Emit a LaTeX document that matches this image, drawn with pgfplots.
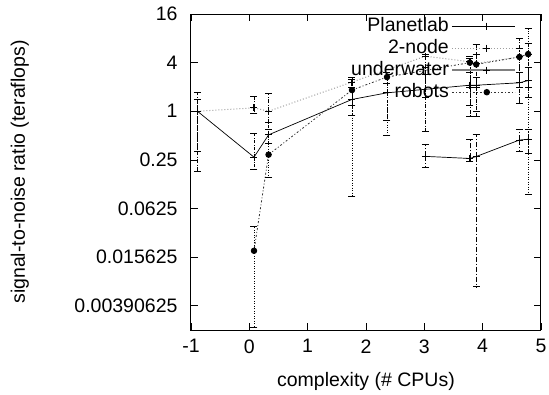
\documentclass[border=0pt]{standalone}
\usepackage{fontspec}
\setmainfont{Liberation Sans}
\usepackage{pgfplots}
\usepackage{pgfplotstable}
\pgfplotsset{compat=1.18}
\pgfplotstableread{
x y ep em
-0.89 1.0 0.4 0.68
0.08 0.27 0.27 0.08
0.33 0.51 0.21 0.11
1.76 1.4 0.6 0.5
2.36 1.69 0.51 0.92
3.78 2.1 0.9 0.9
3.89 2.1 0.5 1.23
4.63 2.25 0.75 0.98
4.78 2.4 1.1 0.9
}\planetlab
\pgfplotstableread{
x y ep em
3.02 0.276 0.114 0.076
3.78 0.26 0.19 0.02
3.89 0.275 0.245 0.2683
4.63 0.44 0.16 0.12
4.78 0.45 0.15 0.15
}\planetlow
\pgfplotstableread{
x y ep em
-0.89 1.0 0.74 0.82
0.08 1.1 0.44 0.15
0.33 1.0 0.66 0.28
1.76 2.3 0.3 1.1
3.02 4.8 0.3 4.24
3.78 4.1 0.7 3.23
3.89 3.9 2.9 1.9
4.63 4.7 3.3 3.43
4.78 5.1 1.9 3.1
}\twonode
\pgfplotstableread{
x y ep em
3.02 2.9 0.6 1.4
}\underwater
\pgfplotstableread{
x y ep em
0.08 0.0187 0.0193 0.0166
0.33 0.29 0.31 0.14
1.76 1.83 0.67 1.742
2.36 2.65 0.35 2.14
3.78 4.0 0.5 2.0
3.89 3.8 1.2 2.8
4.63 4.7 1.3 2.7
4.78 5.1 5.4 5.007
}\robots
\definecolor{lgray}{gray}{0.62}
\definecolor{mgray}{gray}{0.5}
\begin{document}
\begin{tikzpicture}
\path[use as bounding box] (-191pt,-64pt) rectangle (358pt,330pt);
\begin{axis}[
  at={(0,0)}, anchor=south west,
  scale only axis, width=350pt, height=316pt,
  xmin=-1, xmax=5, ymode=log, log basis y=2,
  ymin=0.001953125, ymax=16,
  xtick={-1,0,1,2,3,4,5},
  ytick={0.00390625,0.015625,0.0625,0.25,1,4,16},
  yticklabels={0.00390625,0.015625,0.0625,0.25,1,4,16},
  minor tick num=0,
  tick align=inside, tick style={black, line width=0.6pt},
  major tick length=7pt,
  axis line style={line width=1pt},
  /pgf/number format/assume math mode=true,
  tick label style={font=\fontsize{19.5}{23}\selectfont},
  yticklabel style={xshift=-10pt},
  xticklabel style={yshift=-6pt},
  label style={font=\fontsize{19.5}{23}\selectfont},
  xlabel={complexity (\# CPUs)},
  ylabel={signal-to-noise ratio (teraflops)},
  xlabel style={at={(axis description cs:0.5,0)}, anchor=base, yshift=-56pt},
  ylabel style={at={(axis description cs:-0.489,0.5)}, anchor=center},
  legend style={draw=none, fill=none, at={(axis description cs:1,1)}, anchor=north east,
    xshift=-25pt, yshift=-1pt, inner sep=0pt, font=\fontsize{19.5}{23}\selectfont,
    row sep=0pt, column sep=0pt,
    nodes={text height=14pt, text depth=4pt, inner sep=2pt},
    legend cell align=right},
  legend plot pos=right,
  legend image code/.code={\draw[#1] (0pt,0pt) -- (63pt,0pt); \path[#1, solid] plot coordinates {(35pt,0pt)};},
  error bars/y dir=both, error bars/y explicit,
  error bars/error mark options={rotate=90, mark size=3.5pt, line width=0.6pt, solid},
]
\addplot[black, line width=0.7pt, mark=+, mark size=3.5pt,
  error bars/error bar style={black, line width=0.6pt, dash pattern=on 3pt off 1.5pt on 1pt off 1.5pt}]
  table[x=x, y=y, y error plus=ep, y error minus=em] {\planetlab};
\addlegendentry{Planetlab}
\addplot[lgray, line width=1pt, dotted, mark=+, mark size=3.5pt, mark options={black, solid},
  error bars/error bar style={black, line width=0.6pt, dash pattern=on 4pt off 1.5pt on 1pt off 1.5pt}]
  table[x=x, y=y, y error plus=ep, y error minus=em] {\twonode};
\addlegendentry{2-node}
\addplot[mgray, line width=2pt, mark=+, mark size=3.5pt, mark options={black, line width=0.7pt},
  error bars/error bar style={black, line width=0.6pt, densely dotted}]
  table[x=x, y=y, y error plus=ep, y error minus=em] {\underwater};
\addlegendentry{underwater}
\addplot[black!80, line width=0.8pt, dash pattern=on 2pt off 2pt on 1pt off 2pt, mark=*, mark size=2.8pt, mark options={black, solid},
  error bars/error bar style={black, line width=0.6pt, dash pattern=on 1pt off 1.5pt}]
  table[x=x, y=y, y error plus=ep, y error minus=em] {\robots};
\addlegendentry{robots}
\addplot[black, line width=0.7pt, mark=+, mark size=3.5pt, forget plot,
  error bars/error bar style={black, line width=0.6pt, dash pattern=on 5pt off 2pt on 1pt off 2pt}]
  table[x=x, y=y, y error plus=ep, y error minus=em] {\planetlow};
\end{axis}
\end{tikzpicture}
\end{document}
